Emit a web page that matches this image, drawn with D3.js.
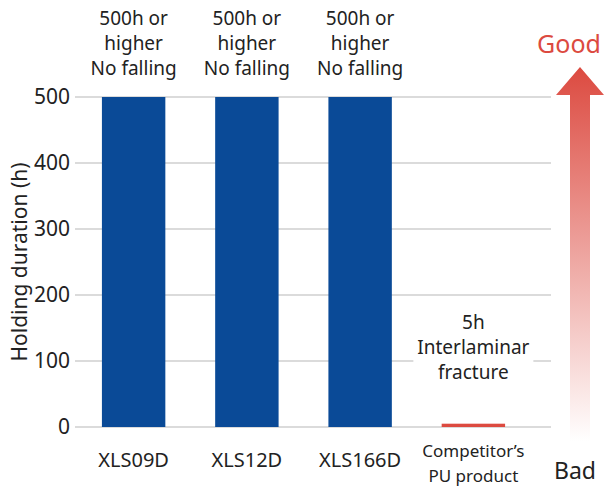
<!DOCTYPE html>
<html><head><meta charset="utf-8">
<script src="https://cdn.jsdelivr.net/npm/d3@7"></script>
<style>body{margin:0;background:#fff}text{font-family:"Noto Sans",sans-serif}</style>
</head><body><svg id="c" width="610" height="492"></svg>
<script>
var categories = ["XLS09D", "XLS12D", "XLS166D", "Competitor’s\nPU product"];
var values = [500, 500, 500, 5];
var barColors = ["#0a4a97", "#0a4a97", "#0a4a97", "#dc4a40"];
var notes = [["500h or","higher","No falling"],["500h or","higher","No falling"],["500h or","higher","No falling"],["5h","Interlaminar","fracture"]];
var yTicks = [0, 100, 200, 300, 400, 500];

var svg = d3.select("#c");
var x = d3.scaleBand().domain(categories).range([77, 530]).paddingInner(0.44).paddingOuter(0.22);
var y = d3.scaleLinear().domain([0, 500]).range([427, 97]);

// grid
svg.selectAll(".g").data(yTicks).enter().append("line")
  .attr("x1", 75).attr("x2", 551).attr("y1", d => y(d)).attr("y2", d => y(d))
  .attr("stroke", "#b8b8b8").attr("stroke-width", 1.2);
svg.selectAll(".yt").data(yTicks).enter().append("text")
  .attr("x", 70).attr("y", d => y(d) + 7).attr("text-anchor", "end")
  .attr("font-size", 21).attr("fill", "#222").text(d => d);
svg.append("text").attr("transform", "translate(27,262) rotate(-90)")
  .attr("text-anchor", "middle").attr("font-size", 21).attr("fill", "#222").text("Holding duration (h)");

// bars
svg.selectAll(".b").data(values).enter().append("rect")
  .attr("x", (d, i) => x(categories[i])).attr("width", x.bandwidth())
  .attr("y", d => y(d)).attr("height", d => Math.max(3, y(0) - y(d)))
  .attr("fill", (d, i) => barColors[i]);

// notes
notes.forEach(function(lines, i) {
  var cx = x(categories[i]) + x.bandwidth() / 2;
  var top = i < 3 ? 25 : 329;
  if (i == 3) svg.append("rect").attr("x", cx - 60).attr("y", 306).attr("width", 120).attr("height", 76).attr("fill", "#fff");
  lines.forEach(function(t, j) {
    svg.append("text").attr("x", cx).attr("y", top + j * 25).attr("text-anchor", "middle")
      .attr("font-size", 19).attr("fill", "#222").text(t);
  });
});

// category labels
categories.forEach(function(c, i) {
  var cx = x(c) + x.bandwidth() / 2;
  var parts = c.split("\n");
  parts.forEach(function(t, j) {
    svg.append("text").attr("x", cx).attr("y", parts.length > 1 ? 457 + j * 25 : 467)
      .attr("text-anchor", "middle").attr("font-size", parts.length > 1 ? 17 : 20)
      .attr("fill", "#222").text(t);
  });
});

// good/bad arrow
var grad = svg.append("defs").append("linearGradient").attr("id", "ar")
  .attr("x1", 0).attr("x2", 0).attr("y1", 0).attr("y2", 1);
grad.append("stop").attr("offset", 0).attr("stop-color", "#dc4a40");
grad.append("stop").attr("offset", 1).attr("stop-color", "#dc4a40").attr("stop-opacity", 0);
svg.append("path").attr("d", "M580,67 L604,95 L590,95 L590,442 L570,442 L570,95 L556,95 Z").attr("fill", "url(#ar)");
svg.append("text").attr("x", 569).attr("y", 53).attr("text-anchor", "middle")
  .attr("font-size", 25).attr("fill", "#dc4a40").text("Good");
svg.append("text").attr("x", 575).attr("y", 479).attr("text-anchor", "middle")
  .attr("font-size", 23).attr("fill", "#222").text("Bad");
</script></body></html>
